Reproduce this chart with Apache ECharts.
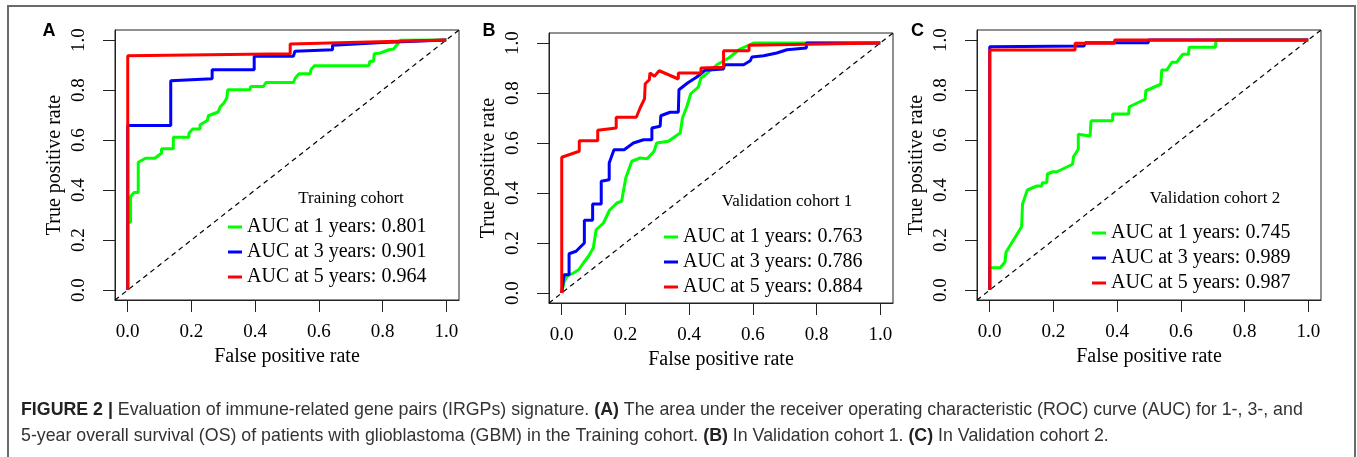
<!DOCTYPE html>
<html>
<head>
<meta charset="utf-8">
<script src="https://cdn.jsdelivr.net/npm/echarts@6/dist/echarts.min.js"></script>
<style>
html,body{margin:0;padding:0;background:#fff;}
#chart{width:1357px;height:457px;}
</style>
</head>
<body>
<div id="chart"></div>
<script>
// ---------- data ----------
const xTicks = [0, 0.2, 0.4, 0.6, 0.8, 1.0];
const yTicks = [0, 0.2, 0.4, 0.6, 0.8, 1.0];
const panelLetters = ['A', 'B', 'C'];
const cohortLabels = ['Training cohort', 'Validation cohort 1', 'Validation cohort 2'];
const seriesColors = ['#00FF00', '#0000FF', '#FF0000'];

const namesA = ['AUC at 1 years: 0.801', 'AUC at 3 years: 0.901', 'AUC at 5 years: 0.964'];
const namesB = ['AUC at 1 years: 0.763', 'AUC at 3 years: 0.786', 'AUC at 5 years: 0.884'];
const namesC = ['AUC at 1 years: 0.745', 'AUC at 3 years: 0.989', 'AUC at 5 years: 0.987'];

// Panel A (Training cohort)
const aYear1 = [[0,0],[0,0.271],[0.009,0.271],[0.009,0.374],[0.020,0.390],[0.033,0.390],[0.033,0.511],[0.056,0.527],[0.085,0.527],[0.106,0.547],[0.106,0.565],[0.143,0.565],[0.143,0.611],[0.192,0.611],[0.192,0.627],[0.204,0.644],[0.227,0.644],[0.227,0.661],[0.250,0.678],[0.253,0.697],[0.284,0.712],[0.290,0.732],[0.302,0.748],[0.311,0.768],[0.314,0.801],[0.384,0.801],[0.386,0.814],[0.426,0.814],[0.434,0.830],[0.520,0.830],[0.526,0.848],[0.538,0.865],[0.573,0.865],[0.575,0.881],[0.586,0.897],[0.757,0.897],[0.760,0.915],[0.772,0.915],[0.774,0.945],[0.793,0.948],[0.820,0.961],[0.835,0.964],[0.856,0.999],[1,1]];
const aYear3 = [[0,0],[0,0.658],[0.135,0.658],[0.135,0.837],[0.265,0.845],[0.265,0.881],[0.397,0.881],[0.397,0.935],[0.520,0.935],[0.525,0.955],[0.643,0.961],[0.643,0.979],[0.800,0.990],[1,1]];
const aYear5 = [[0,0],[0,0.937],[0.510,0.945],[0.510,0.984],[0.850,0.995],[1,1]];

// Panel B (Validation cohort 1)
const bYear1 = [[0,0],[0.007,0.043],[0.016,0.067],[0.037,0.080],[0.053,0.093],[0.068,0.120],[0.084,0.147],[0.099,0.180],[0.108,0.253],[0.131,0.280],[0.150,0.331],[0.173,0.360],[0.188,0.367],[0.201,0.460],[0.220,0.527],[0.246,0.540],[0.268,0.537],[0.290,0.567],[0.298,0.600],[0.335,0.607],[0.372,0.640],[0.379,0.700],[0.393,0.747],[0.405,0.797],[0.429,0.824],[0.437,0.860],[0.455,0.877],[0.487,0.913],[0.524,0.940],[0.560,0.976],[0.602,1.0],[1,1]];
const bYear3 = [[0,0],[0.007,0.073],[0.023,0.073],[0.023,0.157],[0.045,0.167],[0.071,0.200],[0.071,0.291],[0.097,0.291],[0.097,0.356],[0.124,0.356],[0.124,0.447],[0.149,0.453],[0.149,0.520],[0.164,0.573],[0.196,0.573],[0.225,0.600],[0.257,0.613],[0.283,0.613],[0.283,0.660],[0.309,0.667],[0.311,0.709],[0.340,0.723],[0.366,0.723],[0.368,0.813],[0.395,0.840],[0.424,0.864],[0.450,0.891],[0.508,0.896],[0.511,0.913],[0.571,0.913],[0.592,0.929],[0.597,0.944],[0.634,0.949],[0.675,0.960],[0.707,0.973],[0.768,0.980],[0.768,1.0],[1,1]];
const bYear5 = [[0,0],[0,0.543],[0.055,0.567],[0.055,0.609],[0.113,0.609],[0.113,0.651],[0.171,0.660],[0.171,0.703],[0.234,0.703],[0.246,0.740],[0.260,0.777],[0.262,0.837],[0.275,0.853],[0.277,0.880],[0.291,0.867],[0.306,0.889],[0.366,0.856],[0.366,0.880],[0.437,0.880],[0.437,0.900],[0.508,0.903],[0.508,0.969],[0.588,0.969],[0.588,0.991],[1,1]];

// Panel C (Validation cohort 2)
const cYear1 = [[0,0],[0,0.089],[0.033,0.089],[0.048,0.113],[0.051,0.151],[0.100,0.253],[0.103,0.344],[0.118,0.400],[0.148,0.416],[0.163,0.416],[0.165,0.429],[0.179,0.429],[0.181,0.464],[0.198,0.473],[0.211,0.473],[0.260,0.503],[0.263,0.533],[0.278,0.563],[0.278,0.623],[0.315,0.616],[0.318,0.677],[0.386,0.677],[0.386,0.704],[0.436,0.704],[0.438,0.733],[0.488,0.763],[0.490,0.797],[0.537,0.823],[0.540,0.880],[0.556,0.880],[0.572,0.911],[0.587,0.911],[0.606,0.943],[0.624,0.943],[0.626,0.971],[0.708,0.971],[0.711,1.0],[1,1]];
const cYear3 = [[0,0],[0,0.973],[0.296,0.976],[0.300,0.989],[0.498,0.989],[0.498,1.0],[1,1]];
const cYear5 = [[0,0],[0,0.960],[0.268,0.960],[0.268,0.987],[0.392,0.987],[0.392,1.0],[1,1]];

const diagonal = [[-0.04,-0.04],[1.04,1.04]];

const captionLine1 = '{b|FIGURE 2 |} Evaluation of immune-related gene pairs (IRGPs) signature. {b|(A)} The area under the receiver operating characteristic (ROC) curve (AUC) for 1-, 3-, and';
const captionLine2 = '5-year overall survival (OS) of patients with glioblastoma (GBM) in the Training cohort. {b|(B)} In Validation cohort 1. {b|(C)} In Validation cohort 2.';

// ---------- layout ----------
const SERIF = '"Liberation Serif", "Times New Roman", serif';
const SANS = '"Liberation Sans", Arial, Helvetica, sans-serif';
const CAP_SIZE = 17.8;
const grids = [
  {left:115, top:30, width:344, height:270},
  {left:549, top:33, width:344, height:270},
  {left:977, top:30, width:344, height:270}
];
const legendPos = [{left:228, top:217}, {left:664, top:227}, {left:1092, top:223}];
const cohortPos = [[351,199],[787,202],[1215,199]];
const letterPos = [[49,31],[489,31],[917.5,31.5]];

const panelData = [[aYear1,aYear3,aYear5],[bYear1,bYear3,bYear5],[cYear1,cYear3,cYear5]];
const panelNames = [namesA, namesB, namesC];

const fmt = v => Number(v).toFixed(1);

const xAxes = [], yAxes = [], series = [], legends = [], graphics = [];
grids.forEach((g, i) => {
  xAxes.push({
    type:'value', gridIndex:i, min:-0.04, max:1.04,
    name:'False positive rate', nameLocation:'middle', nameGap:46,
    nameTextStyle:{fontFamily:SERIF, fontSize:20, color:'#000'},
    axisLine:{show:true, onZero:false, lineStyle:{color:'#222', width:1}},
    axisTick:{show:true, customValues:xTicks, length:12, lineStyle:{color:'#222', width:1}},
    axisLabel:{show:true, customValues:xTicks, formatter:fmt, margin:23, fontFamily:SERIF, fontSize:19, color:'#000'},
    splitLine:{show:false}
  });
  yAxes.push({
    type:'value', gridIndex:i, min:-0.04, max:1.04,
    name:'True positive rate', nameLocation:'middle', nameGap:50,
    nameTextStyle:{fontFamily:SERIF, fontSize:20, color:'#000'},
    axisLine:{show:true, onZero:false, lineStyle:{color:'#222', width:1}},
    axisTick:{show:true, customValues:yTicks, length:12, lineStyle:{color:'#222', width:1}},
    axisLabel:{show:true, customValues:yTicks, formatter:fmt, rotate:90, margin:26, fontFamily:SERIF, fontSize:19, color:'#000'},
    splitLine:{show:false}
  });
  series.push({
    type:'line', name:'diag'+i, xAxisIndex:i, yAxisIndex:i, data:diagonal,
    symbol:'none', silent:true, z:1,
    lineStyle:{color:'#000', width:1.2, type:[5,4]}
  });
  panelData[i].forEach((d, k) => {
    series.push({
      type:'line', name:panelNames[i][k], xAxisIndex:i, yAxisIndex:i, data:d,
      symbol:'none', showSymbol:false, z:2+k,
      lineStyle:{color:seriesColors[k], width:3},
      itemStyle:{color:seriesColors[k]}
    });
  });
  legends.push({
    orient:'vertical', left:legendPos[i].left, top:legendPos[i].top, padding:0,
    itemGap:5, itemWidth:14, itemHeight:3, icon:'rect', selectedMode:false,
    data:panelNames[i],
    textStyle:{fontFamily:SERIF, fontSize:20, color:'#000', lineHeight:20}
  });
  graphics.push({
    type:'text', x:cohortPos[i][0], y:cohortPos[i][1],
    style:{text:cohortLabels[i], font:'17px ' + SERIF, fill:'#000', align:'center', verticalAlign:'middle'}
  });
  graphics.push({
    type:'text', x:letterPos[i][0], y:letterPos[i][1],
    style:{text:panelLetters[i], font:'bold 18px ' + SANS, fill:'#000', align:'center', verticalAlign:'middle'}
  });
});

graphics.push({
  type:'rect', shape:{x:8, y:6, width:1347, height:480},
  style:{fill:'none', stroke:'#6a6a6a', lineWidth:2}, silent:true
});
const richCap = {b:{fontFamily:SANS, fontSize:CAP_SIZE, fontWeight:'bold', fill:'#222'}};
graphics.push({
  type:'text', x:21, y:410,
  style:{text:captionLine1, font:CAP_SIZE + 'px ' + SANS, fill:'#333', align:'left', verticalAlign:'middle', rich:richCap}
});
graphics.push({
  type:'text', x:21, y:436,
  style:{text:captionLine2, font:CAP_SIZE + 'px ' + SANS, fill:'#333', align:'left', verticalAlign:'middle', rich:richCap}
});

const chart = echarts.init(document.getElementById('chart'), null, {renderer:'canvas'});
chart.setOption({
  animation:false,
  backgroundColor:'#fff',
  grid: grids.map(g => Object.assign({show:true, borderColor:'#222', borderWidth:1, backgroundColor:'transparent', containLabel:false, outerBoundsMode:'none'}, g)),
  xAxis: xAxes,
  yAxis: yAxes,
  legend: legends,
  series: series,
  graphic: graphics
});
</script>
</body>
</html>
